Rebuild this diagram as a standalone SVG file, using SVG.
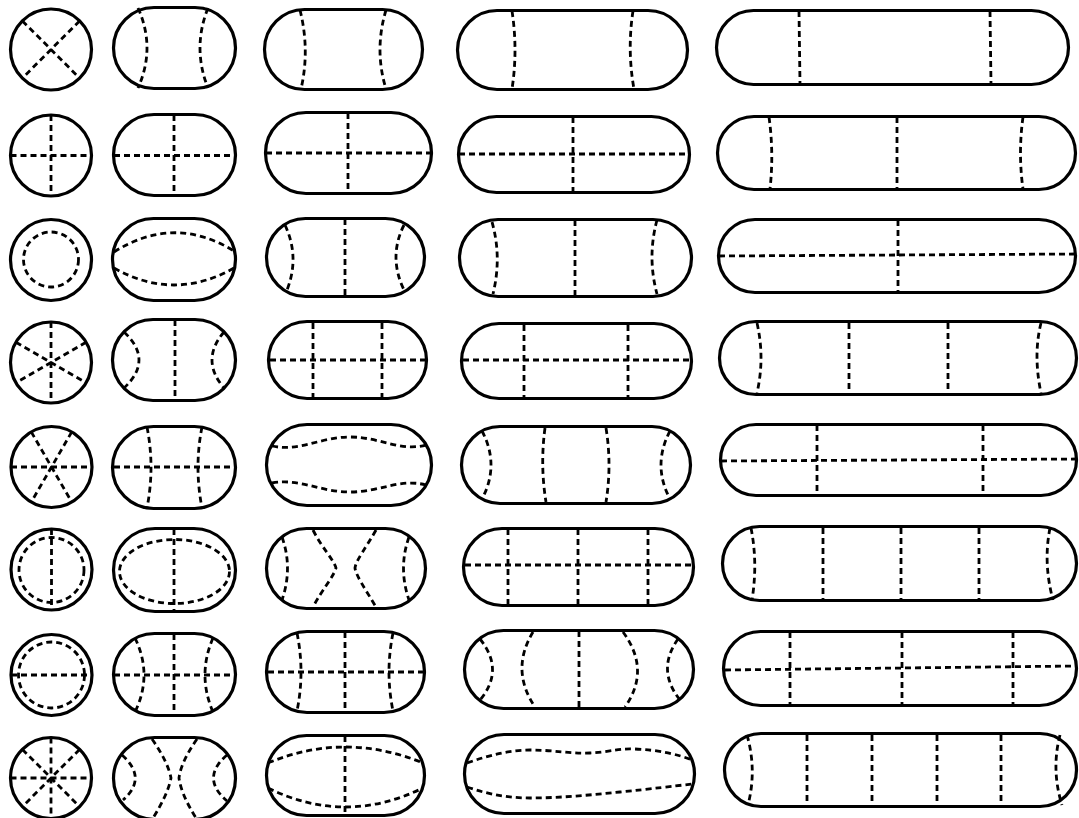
<svg xmlns="http://www.w3.org/2000/svg" width="1079" height="818" viewBox="0 0 1079 818">
<style>
.o{fill:none;stroke:#000;stroke-width:3.2}
.d{fill:none;stroke:#000;stroke-width:2.8;stroke-dasharray:6 4}
</style>
<rect width="1079" height="818" fill="#fff"/>
<!-- Row 1 -->
<g id="r1c1"><circle class="o" cx="51" cy="49.5" r="40.5"/><path class="d" d="M22.4,20.9 L79.6,78.1 M79.6,20.9 L22.4,78.1"/></g>
<g id="r1c2"><rect class="o" x="113.5" y="7.5" width="122" height="81" rx="40.5"/><path class="d" d="M138,8 Q156,48 138,88 M208,8 Q192,48 208,88"/></g>
<g id="r1c3"><rect class="o" x="264.5" y="9.5" width="158" height="80" rx="40"/><path class="d" d="M300,10 Q310,50 301,89 M386,10 Q374,50 386,89"/></g>
<g id="r1c4"><rect class="o" x="457.5" y="10.5" width="230" height="79" rx="39.5"/><path class="d" d="M512,11 Q518,50 512,89 M633,11 Q627,50 634,89"/></g>
<g id="r1c5"><rect class="o" x="716.5" y="10.5" width="352" height="74" rx="37"/><path class="d" d="M799,11 L800,84 M990,11 L991,84"/></g>
<!-- Row 2 -->
<g id="r2c1"><circle class="o" cx="51" cy="155.5" r="40.5"/><path class="d" d="M51,115 L51,196 M10.5,155.5 L91.5,155.5"/></g>
<g id="r2c2"><rect class="o" x="113.5" y="114.5" width="122" height="81" rx="40.5"/><path class="d" d="M174,115 L174,195 M114,155.5 L235,155.5"/></g>
<g id="r2c3"><rect class="o" x="265.5" y="112.5" width="166" height="81" rx="40.5"/><path class="d" d="M348,113 L348,193 M266,153 L431,153"/></g>
<g id="r2c4"><rect class="o" x="458.5" y="116.5" width="231" height="76" rx="38"/><path class="d" d="M573,117 L573,192 M459,154 L689,154"/></g>
<g id="r2c5"><rect class="o" x="717.5" y="116.5" width="358" height="73" rx="36.5"/><path class="d" d="M769,117 Q774,153 770,189 M897,117 L897,189 M1023,117 Q1018,153 1023,189"/></g>
<!-- Row 3 -->
<g id="r3c1"><circle class="o" cx="51" cy="260" r="40.5"/><circle class="d" cx="51" cy="259.5" r="27.5"/></g>
<g id="r3c2"><rect class="o" x="112.5" y="218.5" width="123" height="82" rx="41"/><path class="d" d="M114,252 Q174,214 234,251 M114,268 Q174,302 234,268"/></g>
<g id="r3c3"><rect class="o" x="266.5" y="218.5" width="158" height="78" rx="39"/><path class="d" d="M285,225 Q300,257 287,290 M345,219 L345,297 M404,225 Q388,257 404,290"/></g>
<g id="r3c4"><rect class="o" x="459.5" y="219.5" width="232" height="77" rx="38.5"/><path class="d" d="M492,222 Q502,257 493,294 M575,220 L575,296 M657,220 Q647,257 657,294"/></g>
<g id="r3c5"><rect class="o" x="718.5" y="219.5" width="357" height="73" rx="36.5"/><path class="d" d="M898,220 L898,293 M719,256 L1075,254"/></g>
<!-- Row 4 -->
<g id="r4c1"><circle class="o" cx="51" cy="362.5" r="40.5"/><path class="d" d="M51,322 L51,403 M15.9,342.25 L86.1,382.75 M86.1,342.25 L15.9,382.75"/></g>
<g id="r4c2"><rect class="o" x="112.5" y="319.5" width="123" height="81" rx="40.5"/><path class="d" d="M124,332 Q154,360 124,388 M175,320 L175,400 M224,332 Q200,360 224,388"/></g>
<g id="r4c3"><rect class="o" x="268.5" y="321.5" width="158" height="77" rx="38.5"/><path class="d" d="M313,323 L313,397 M382,323 L382,397 M270,360 L425,360"/></g>
<g id="r4c4"><rect class="o" x="461.5" y="323.5" width="230" height="75" rx="37.5"/><path class="d" d="M524,325 L524,397 M628,325 L628,397 M463,360 L690,360"/></g>
<g id="r4c5"><rect class="o" x="719.5" y="321.5" width="357" height="73" rx="36.5"/><path class="d" d="M757,323 Q765,358 757,393 M849,323 L849,393 M948,323 L948,393 M1041,323 Q1033,355 1041,393"/></g>
<!-- Row 5 -->
<g id="r5c1"><circle class="o" cx="51.5" cy="467" r="40.5"/><path class="d" d="M11,467 L92,467 M31.25,431.9 L71.75,502.1 M71.75,431.9 L31.25,502.1"/></g>
<g id="r5c2"><rect class="o" x="112.5" y="426.5" width="123" height="82" rx="41"/><path class="d" d="M114,467 L234,467 M147,427 Q155,467 147,508 M202,427 Q194,467 202,508"/></g>
<g id="r5c3"><rect class="o" x="266.5" y="424.5" width="165" height="81" rx="40.5"/><path class="d" d="M272,446 C300,452 320,437 350,437 C380,437 400,452 426,445 M272,483 C300,478 320,492 350,492 C380,492 400,478 426,485"/></g>
<g id="r5c4"><rect class="o" x="461.5" y="426.5" width="229" height="77" rx="38.5"/><path class="d" d="M482,431 Q500,465 482,499 M545,428 Q540,465 546,502 M606,428 Q612,465 606,502 M670,431 Q652,465 670,499"/></g>
<g id="r5c5"><rect class="o" x="720.5" y="424.5" width="356" height="71" rx="35.5"/><path class="d" d="M817,425 L817,495 M983,425 L983,495 M721,461 L1076,459"/></g>
<!-- Row 6 -->
<g id="r6c1"><circle class="o" cx="51.5" cy="569.5" r="40.5"/><circle class="d" cx="51.5" cy="570" r="32.5"/><path class="d" d="M51.5,529 L51.5,610"/></g>
<g id="r6c2"><rect class="o" x="113.5" y="528.5" width="122" height="83" rx="41.5"/><ellipse class="d" cx="174.5" cy="571.5" rx="55" ry="32"/><path class="d" d="M174,529 L174,611"/></g>
<g id="r6c3"><rect class="o" x="266.5" y="528.5" width="159" height="80" rx="40"/><path class="d" d="M282,537 Q293,568 282,600 M409,537 Q398,568 409,600 M313,530 C322,548 334,560 336,568 C334,576 322,590 313,607 M376,530 C366,548 356,560 355,568 C356,576 366,590 376,607"/></g>
<g id="r6c4"><rect class="o" x="463.5" y="528.5" width="230" height="77" rx="38.5"/><path class="d" d="M465,565 L691,565 M508,529 L508,606 M578,529 L578,606 M648,529 L648,606"/></g>
<g id="r6c5"><rect class="o" x="722.5" y="526.5" width="354" height="74" rx="37"/><path class="d" d="M751,528 Q758,563 752,600 M823,528 L823,600 M901,528 L901,600 M979,528 L979,600 M1050,528 Q1043,563 1053,600"/></g>
<!-- Row 7 -->
<g id="r7c1"><circle class="o" cx="51.5" cy="675" r="40.5"/><circle class="d" cx="51.5" cy="675" r="33"/><path class="d" d="M11,675 L92,675"/></g>
<g id="r7c2"><rect class="o" x="113.5" y="633.5" width="122" height="82" rx="41"/><path class="d" d="M114,675 L235,675 M174,634 L174,715 M135,638 Q153,675 135,712 M213,638 Q197,675 213,712"/></g>
<g id="r7c3"><rect class="o" x="266.5" y="631.5" width="158" height="81" rx="40.5"/><path class="d" d="M268,672 L424,672 M345,632 L345,713 M297,633 Q305,672 297,711 M393,633 Q385,672 393,711"/></g>
<g id="r7c4"><rect class="o" x="464.5" y="630.5" width="229" height="78" rx="39"/><path class="d" d="M480,639 Q505,670 480,700 M533,632 Q510,670 535,707 M579,631 L579,708 M623,632 Q651,670 625,707 M678,639 Q656,670 680,700"/></g>
<g id="r7c5"><rect class="o" x="723.5" y="631.5" width="353" height="74" rx="37"/><path class="d" d="M725,670 L1076,666 M790,632 L790,705 M902,632 L902,705 M1013,632 L1013,705"/></g>
<!-- Row 8 -->
<g id="r8c1"><circle class="o" cx="51" cy="778" r="40.5"/><path class="d" d="M51,737.5 L51,818.5 M10.5,778 L91.5,778 M22.4,749.4 L79.6,806.6 M79.6,749.4 L22.4,806.6"/></g>
<g id="r8c2"><rect class="o" x="113.5" y="737.5" width="122" height="82" rx="41"/><path class="d" d="M122,755 Q148,778 123,800 M227,755 Q200,778 227,801 M152,739 Q168,762 171,778 Q168,794 153,818 M197,739 Q181,762 179,778 Q181,794 196,818"/></g>
<g id="r8c3"><rect class="o" x="266.5" y="735.5" width="158" height="80" rx="40"/><path class="d" d="M345,736 L345,815 M268,763 Q345,731 423,763 M268,788 Q345,826 423,788"/></g>
<g id="r8c4"><rect class="o" x="464.5" y="734.5" width="230" height="79" rx="39.5"/><path class="d" d="M467,763 C490,755 510,750 530,750 C555,750 570,754 590,753 C610,752 620,748 635,749 C660,750 680,755 692,760 M467,787 C490,795 510,798 530,798 C560,798 590,795 620,792 C650,789 675,786 692,784"/></g>
<g id="r8c5"><rect class="o" x="724.5" y="733.5" width="352" height="73" rx="36.5"/><path class="d" d="M747,735 Q757,770 748,805 M807,735 L807,805 M872,735 L872,805 M937,735 L937,805 M1001,735 L1001,805 M1060,735 Q1051,770 1062,805"/></g>
</svg>
